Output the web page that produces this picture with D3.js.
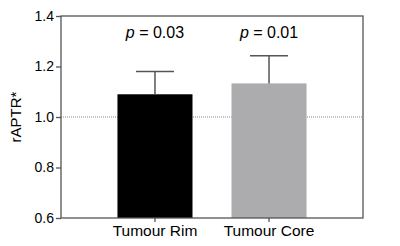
<!DOCTYPE html>
<html>
<head>
<meta charset="utf-8">
<script src="https://cdn.jsdelivr.net/npm/d3@7"></script>
<style>
  body { margin: 0; background: #fff; }
  text { font-family: "Liberation Sans", Arial, sans-serif; fill: #000; }
</style>
</head>
<body>
<div id="chart"></div>
<script>
// data
groups = ["Tumour Rim", "Tumour Core"]
means = [1.09, 1.133]
upper = [1.18, 1.243]
pLabels = ["0.03", "0.01"]
yTicks = [0.6, 0.8, 1.0, 1.2, 1.4]
barColors = ["#000000", "#acacaf"]

margin = {top: 16, right: 37, bottom: 28, left: 61},
  width = 400 - margin.left - margin.right,
  height = 246 - margin.top - margin.bottom;

svg = d3.select("#chart")
  .append("svg")
  .attr("width", 400)
  .attr("height", 246)
  .append("g")
  .attr("transform", `translate(${margin.left}, ${margin.top})`);

x = d3.scaleBand()
  .range([0, width])
  .domain(groups)
  .paddingInner(0.342)
  .paddingOuter(0.495);

y = d3.scaleLinear()
  .domain([0.6, 1.4])
  .range([height, 0]);

// reference line at 1.0
svg.append("line")
  .attr("x1", 0).attr("x2", width)
  .attr("y1", y(1)).attr("y2", y(1))
  .attr("stroke", "#888")
  .attr("stroke-width", 1)
  .attr("stroke-dasharray", "1,1");

// bars
svg.selectAll(".bar")
  .data(groups)
  .join("rect")
    .attr("x", d => x(d))
    .attr("width", x.bandwidth())
    .attr("y", (d, i) => y(means[i]))
    .attr("height", (d, i) => height - y(means[i]))
    .attr("fill", (d, i) => barColors[i]);

// error bars (upper only) + p values
capW = 38
groups.forEach((g, i) => {
  cx = x(g) + x.bandwidth() / 2
  svg.append("line")
    .attr("x1", cx).attr("x2", cx)
    .attr("y1", y(means[i])).attr("y2", y(upper[i]))
    .attr("stroke", "#555").attr("stroke-width", 1.5);
  svg.append("line")
    .attr("x1", cx - capW / 2).attr("x2", cx + capW / 2)
    .attr("y1", y(upper[i])).attr("y2", y(upper[i]))
    .attr("stroke", "#555").attr("stroke-width", 1.5);
  t = svg.append("text")
    .attr("x", cx)
    .attr("y", 21.5)
    .attr("text-anchor", "middle")
    .style("font-size", "16px");
  t.append("tspan").style("font-style", "italic").text("p");
  t.append("tspan").text(" = " + pLabels[i]);
});

// box frame
svg.append("rect")
  .attr("width", width).attr("height", height)
  .attr("fill", "none")
  .attr("stroke", "#555")
  .attr("stroke-width", 1.3);

// axes
yAxis = svg.append("g")
  .call(d3.axisLeft(y).tickValues(yTicks).tickFormat(d3.format(".1f")).tickSize(5).tickPadding(2))
yAxis.select(".domain").remove()
yAxis.selectAll("line").attr("stroke", "#555").attr("stroke-width", 1.3)
yAxis.selectAll("text").style("font-size", "14px")

xAxis = svg.append("g")
  .attr("transform", `translate(0, ${height})`)
  .call(d3.axisBottom(x).tickSize(4).tickPadding(3))
xAxis.select(".domain").remove()
xAxis.selectAll("line").attr("stroke", "#555").attr("stroke-width", 1.3)
xAxis.selectAll("text").style("font-size", "15.5px")

// y title
svg.append("text")
  .attr("transform", `translate(${-45}, ${height / 2}) rotate(-90)`)
  .attr("text-anchor", "middle")
  .attr("dy", "0.35em")
  .style("font-size", "15px")
  .text("rAPTR*");
</script>
</body>
</html>
